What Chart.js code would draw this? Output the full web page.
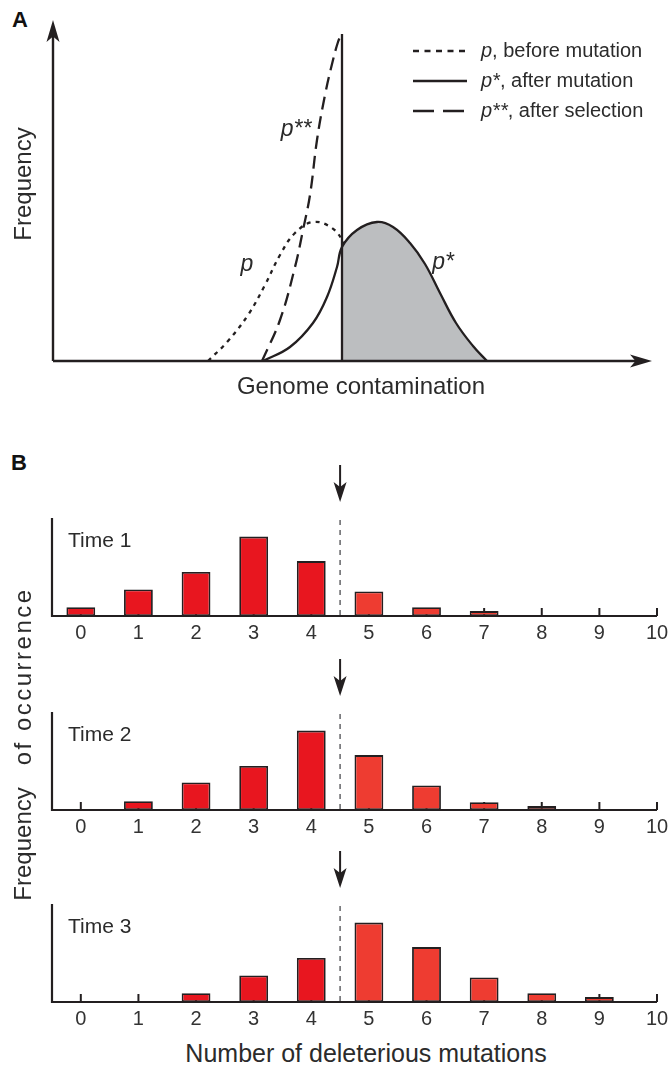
<!DOCTYPE html>
<html>
<head>
<meta charset="utf-8">
<script src="https://cdn.jsdelivr.net/npm/chart.js@4.4.1/dist/chart.umd.min.js"></script>
<style>
  body { margin: 0; width: 668px; height: 1065px; background: #fff; position: relative; overflow: hidden;
         font-family: "Liberation Sans", Arial, sans-serif; color: #231f20; }
  canvas { position: absolute; left: 0; }
  .lbl { position: absolute; white-space: pre; line-height: 1; transform: translate(-50%, -50%); color: #2b2b2b; }
  .rot { transform: translate(-50%, -50%) rotate(-90deg); }
  .panel { position: absolute; font-weight: bold; font-size: 22px; line-height: 1; color: #111; }
</style>
</head>
<body>
<div class="panel" style="left:12px; top:9px;">A</div>
<div class="panel" style="left:11px; top:452px;">B</div>

<canvas id="panelA" width="668" height="400" style="top:0"></canvas>
<canvas id="time1" width="690" height="188" style="top:458px"></canvas>
<canvas id="time2" width="690" height="188" style="top:652px"></canvas>
<canvas id="time3" width="690" height="188" style="top:844px"></canvas>

<div class="lbl rot" style="left:23px; top:184px; font-size:24px;">Frequency</div>
<div class="lbl" style="left:361px; top:386px; font-size:24px;">Genome contamination</div>
<div class="lbl rot" style="left:23px; top:744px; font-size:24px;">Frequency<span style="margin-left:22px; letter-spacing:2.5px;">of occurrence</span></div>
<div class="lbl" style="left:366px; top:1053px; font-size:25px;">Number of deleterious mutations</div>

<script>
/* ===================== DATOS ===================== */

// panel A : curvas de frecuencia (unidades arbitrarias)
const pBeforeX = [155, 175, 195, 212, 227, 242, 260, 279, 292, 307, 322, 338, 354, 369];
const pBeforeY = [0, 20, 46, 76, 106, 128, 139, 133, 117, 94, 65, 37, 16, 0];
const pMutX = [210, 237, 260, 274, 284, 289, 304, 324, 340, 357, 372, 387, 403, 420, 434];
const pMutY = [0, 14, 38, 64, 94, 114, 131, 139, 134, 118, 97, 68, 38, 15, 0];
const pSelX = [209, 227, 242, 250, 257, 264, 272, 280, 285, 288];
const pSelY = [0, 41, 94, 131, 166, 221, 266, 301, 319, 326];
const cutPoint = 289;
const cutHeight = 327;
const genomeMax = 599;
const freqMax = 339;

// panel B : histogramas
const mutations = [0, 1, 2, 3, 4, 5, 6, 7, 8, 9, 10];
const time1 = [9, 27, 45, 81, 56, 25, 9, 5, 0, 0, 0];
const time2 = [0, 9, 28, 45, 81, 56, 25, 8, 4, 0, 0];
const time3 = [0, 0, 9, 27, 45, 81, 56, 25, 9, 5, 0];
const threshold = 4.5;
const histMax = 100;

/* ===================== ESTILOS ===================== */

const INK = "#231f20";
const SHADE = "#bcbec0";
const FONT = '"Liberation Sans", Arial, sans-serif';
const DOTS = [4, 5];
const DASHES = [13, 7];

const pts = (xs, ys) => xs.map((x, i) => ({ x, y: ys[i] }));

function arrowHead(ctx, tipX, tipY, dir, len, half) {
  // dir: vector unitario hacia la punta
  const [dx, dy] = dir;
  const bx = tipX - dx * len, by = tipY - dy * len;
  const nx = -dy, ny = dx;
  ctx.beginPath();
  ctx.moveTo(tipX, tipY);
  ctx.lineTo(bx + nx * half, by + ny * half);
  ctx.lineTo(tipX - dx * len * 0.75, tipY - dy * len * 0.75);
  ctx.lineTo(bx - nx * half, by - ny * half);
  ctx.closePath();
  ctx.fill();
}

/* ===================== PANEL A ===================== */

const LEGEND_ITEMS = [
  { sym: "p", text: ", before mutation", dash: [6, 5.5] },
  { sym: "p*", text: ", after mutation", dash: [] },
  { sym: "p**", text: ", after selection", dash: [21, 9] }
];

const CURVE_TAGS = [
  { text: "p", x: 194, y: 96 },
  { text: "p*", x: 390, y: 98 },
  { text: "p**", x: 243, y: 231 }
];

const panelAPlugin = {
  id: "panelA",
  afterDraw(chart) {
    const { ctx, chartArea: a, scales } = chart;
    ctx.save();
    ctx.strokeStyle = INK;
    ctx.fillStyle = INK;
    ctx.lineWidth = 2.4;
    ctx.beginPath();
    ctx.moveTo(a.left, a.bottom);
    ctx.lineTo(a.left, a.top + 10);
    ctx.moveTo(a.left, a.bottom);
    ctx.lineTo(a.right - 10, a.bottom);
    ctx.stroke();
    arrowHead(ctx, a.left, a.top - 2, [0, -1], 22, 6.5);
    arrowHead(ctx, a.right, a.bottom, [1, 0], 22, 6.5);

    ctx.fillStyle = "#2b2b2b";
    ctx.font = "italic 23px " + FONT;
    ctx.textAlign = "center";
    ctx.textBaseline = "middle";
    CURVE_TAGS.forEach(t => {
      ctx.fillText(t.text, scales.x.getPixelForValue(t.x), scales.y.getPixelForValue(t.y));
    });

    ctx.textAlign = "left";
    LEGEND_ITEMS.forEach((it, i) => {
      const y = 51 + i * 30;
      ctx.beginPath();
      ctx.setLineDash(it.dash);
      ctx.lineWidth = 2.4;
      ctx.moveTo(413, y);
      ctx.lineTo(467, y);
      ctx.stroke();
      ctx.setLineDash([]);
      ctx.font = "italic 20px " + FONT;
      ctx.fillText(it.sym, 481, y);
      const w = ctx.measureText(it.sym).width;
      ctx.font = "20px " + FONT;
      ctx.fillText(it.text, 481 + w, y);
    });
    ctx.restore();
  }
};

const curve = (data, dash, order) => ({
  data, borderColor: INK, borderWidth: 2.3, borderDash: dash, pointRadius: 0,
  tension: 0.4, fill: false, order
});

new Chart(document.getElementById("panelA"), {
  type: "line",
  data: {
    datasets: [
      curve(pts(pBeforeX, pBeforeY), DOTS, 3),
      Object.assign(curve(pts(pMutX, pMutY), [], 2), {
        fill: "origin",
        backgroundColor: "rgba(0,0,0,0)",
        segment: { backgroundColor: c => (c.p0.parsed.x >= cutPoint ? SHADE : "rgba(0,0,0,0)") }
      }),
      curve(pts(pSelX, pSelY), DASHES, 1),
      { data: [{ x: cutPoint, y: 0 }, { x: cutPoint, y: cutHeight }], borderColor: INK,
        borderWidth: 2.3, pointRadius: 0, order: 0 }
    ]
  },
  options: {
    responsive: false,
    animation: false,
    layout: { padding: { left: 53, right: 16, top: 22, bottom: 39 } },
    plugins: { legend: { display: false }, tooltip: { enabled: false } },
    scales: {
      x: { type: "linear", min: 0, max: genomeMax, display: false },
      y: { min: 0, max: freqMax, display: false }
    }
  },
  plugins: [panelAPlugin]
});

/* ===================== PANEL B ===================== */

const histPlugin = {
  id: "hist",
  beforeDatasetsDraw(chart, args, opts) {
    const { ctx, chartArea: a, scales: { x } } = chart;
    ctx.save();
    ctx.strokeStyle = INK;
    ctx.lineWidth = 2;
    mutations.forEach(m => {
      const px = x.getPixelForValue(m);
      ctx.beginPath();
      ctx.moveTo(px, a.bottom);
      ctx.lineTo(px, a.bottom - 8);
      ctx.stroke();
    });
    const cx = x.getPixelForValue(threshold);
    ctx.strokeStyle = "#6d6e71";
    ctx.lineWidth = 1.6;
    ctx.setLineDash([5, 5]);
    ctx.beginPath();
    ctx.moveTo(cx, a.top + 2);
    ctx.lineTo(cx, a.bottom);
    ctx.stroke();
    ctx.restore();
  },
  afterDatasetsDraw(chart, args, opts) {
    const { ctx, chartArea: a, scales: { x } } = chart;
    ctx.save();
    ctx.strokeStyle = INK;
    ctx.fillStyle = INK;
    ctx.lineWidth = 2.2;
    ctx.beginPath();
    ctx.moveTo(a.left, a.top);
    ctx.lineTo(a.left, a.bottom);
    ctx.lineTo(x.getPixelForValue(mutations[mutations.length - 1]), a.bottom);
    ctx.stroke();

    const cx = x.getPixelForValue(threshold);
    ctx.lineWidth = 2;
    ctx.beginPath();
    ctx.moveTo(cx, a.top - 53);
    ctx.lineTo(cx, a.top - 28);
    ctx.stroke();
    arrowHead(ctx, cx, a.top - 16, [0, 1], 20, 6.5);

    ctx.font = "21px " + FONT;
    ctx.fillStyle = "#2b2b2b";
    ctx.textBaseline = "alphabetic";
    ctx.fillText(opts.title, a.left + 16, a.top + 29);
    ctx.restore();
  }
};

function histograma(id, titulo, valores) {
  new Chart(document.getElementById(id), {
    type: "bar",
    data: {
      datasets: [{
        data: mutations.map((m, i) => ({ x: m, y: valores[i] || null })),
        backgroundColor: mutations.map(m => (m < threshold ? "#e8161f" : "#ee3c31")),
        borderColor: INK,
        borderWidth: 1.8,
        borderSkipped: false,
        barPercentage: 0.5,
        categoryPercentage: 1
      }]
    },
    options: {
      responsive: false,
      animation: false,
      layout: { padding: { left: 52, right: 33, top: 60, bottom: 0 } },
      plugins: { legend: { display: false }, tooltip: { enabled: false }, hist: { title: titulo } },
      scales: {
        x: {
          type: "linear", min: -0.5, max: 10, offset: false,
          afterBuildTicks: s => { s.ticks = mutations.map(v => ({ value: v })); },
          afterFit: s => { s.height = 30; },
          grid: { display: false, drawTicks: false },
          border: { display: false },
          ticks: { autoSkip: false, maxRotation: 0, padding: 5, color: "#333", font: { family: FONT, size: 20 } }
        },
        y: { min: 0, max: histMax, display: false }
      }
    },
    plugins: [histPlugin]
  });
}

histograma("time1", "Time 1", time1);
histograma("time2", "Time 2", time2);
histograma("time3", "Time 3", time3);
</script>
</body>
</html>
